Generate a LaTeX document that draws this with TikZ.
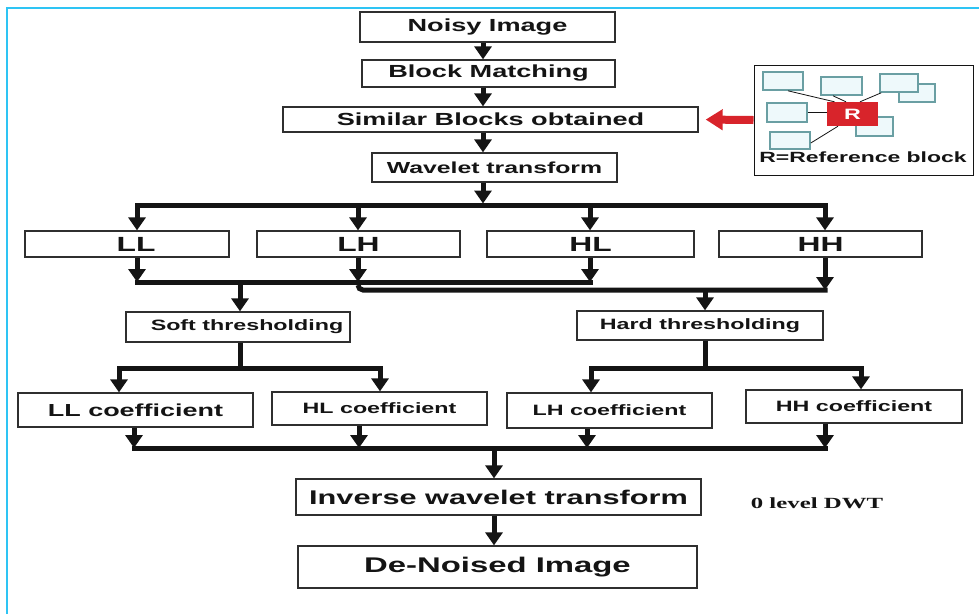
\documentclass[tikz,border=0pt]{standalone}
\usepackage{fontspec}
\usetikzlibrary{arrows.meta,calc}
\newfontfamily\wide{Liberation Sans}[FakeStretch=1.55]
\newfontfamily\widerm{Liberation Serif}[FakeStretch=1.6]
\definecolor{ink}{HTML}{141414}
\definecolor{edge}{HTML}{2F2F2F}
\definecolor{framec}{HTML}{2EC4F4}
\definecolor{rblock}{HTML}{D8242B}
\definecolor{sedge}{HTML}{6A9FA3}
\definecolor{sfill}{HTML}{EEF9FB}
\tikzset{
  box/.style={draw=edge,line width=1.3pt,fill=white,inner sep=0pt,text=ink},
  lbl/.style={font=\wide\bfseries\fontsize{#1}{#1}\selectfont},
  flow/.style={ink,line width=5pt,-{Triangle[length=13pt,width=17pt]}},
  wire/.style={ink,line width=5pt,line cap=rect},
  sblk/.style={draw=sedge,fill=sfill,line width=1.6pt,inner sep=0pt},
  redarr/.style={rblock,line width=8pt,-{Triangle[length=17pt,width=20pt]}},
}

\begin{document}
\begin{tikzpicture}[x=1pt,y=-1pt]
\useasboundingbox (0,0) rectangle (979,614);

% ---------------------------------------------------------------- frame
\draw[framec,line width=2.2pt] (7,614) -- (7,8) -- (979,8);

% ---------------------------------------------------------------- top column
\node[box,lbl=17.5,minimum width=255pt,minimum height=30pt] (noisy) at (487.5,27)   {Noisy Image};
\node[box,lbl=17.5,minimum width=253pt,minimum height=27pt] (block) at (488.5,73.5) {Block Matching};
\node[box,lbl=17.5,minimum width=415pt,minimum height=25pt] (sim)   at (490.5,119.5){Similar Blocks obtained};
\node[box,lbl=16,minimum width=245pt,minimum height=29pt] (wave) at (494.5,167.5){Wavelet transform};

\coordinate (split) at (483,205);
\draw[flow] (noisy.south -| split) -- (block.north -| split);
\draw[flow] (block.south -| split) -- (sim.north -| split);
\draw[flow] (sim.south -| split) -- (wave.north -| split);
\draw[flow,shorten >=1.5pt] (wave.south -| split) -- (split);

% ---------------------------------------------------------------- reference block inset
\node[draw=ink,line width=1pt,fill=white,minimum width=219pt,minimum height=110pt,inner sep=0pt] (refbox) at (863.5,120) {};
\node[sblk,minimum width=36pt,minimum height=18pt] (b3b) at (917,93) {};
\node[sblk,minimum width=37pt,minimum height=19pt] (b6)  at (874.5,126.5) {};
\node[sblk,minimum width=40pt,minimum height=18pt] (b1)  at (783,81) {};
\node[sblk,minimum width=41pt,minimum height=18pt] (b2)  at (841.5,86) {};
\node[sblk,minimum width=38pt,minimum height=18pt] (b3)  at (899,83) {};
\node[sblk,minimum width=40pt,minimum height=19pt] (b4)  at (787,112.5) {};
\node[sblk,minimum width=40pt,minimum height=17pt] (b5)  at (790,140.5) {};
\node[fill=rblock,text=white,lbl=15,minimum width=51pt,minimum height=24pt,inner sep=0pt] (R) at (852.5,114) {R};
\draw[ink,line width=0.8pt] ([xshift=5pt]b1.south) -- ([xshift=-18pt]R.north);
\draw[ink,line width=0.8pt] ([xshift=-8.5pt]b2.south) -- ([xshift=-6.5pt]R.north);
\draw[ink,line width=0.8pt] ([xshift=2pt]b3.south west) -- ([xshift=7.5pt]R.north);
\draw[ink,line width=0.8pt] (b4.east) -- (b4.east -| R.west);
\draw[ink,line width=0.8pt] ([yshift=-2.5pt]b5.east) -- ([xshift=-14.5pt]R.south);
\node[lbl=14.8,text=ink] (rtxt) at (863,157) {R=Reference block};
\draw[redarr,shorten >=7pt] (refbox.west) -- (sim.east);

% ---------------------------------------------------------------- sub-bands
\node[box,lbl=20.5,minimum width=204pt,minimum height=26pt] (LL) at (127,244)   {\hspace*{18pt}LL};
\node[box,lbl=20.5,minimum width=203pt,minimum height=26pt] (LH) at (358.5,244) {LH};
\node[box,lbl=20.5,minimum width=207pt,minimum height=26pt] (HL) at (590.5,244) {HL};
\node[box,lbl=20.5,minimum width=203pt,minimum height=26pt] (HH) at (820.5,244) {HH};

\foreach \b/\x in {LL/137,LH/358,HL/590,HH/825}
  {\coordinate (t\b) at (\x,205);
   \draw[flow] (t\b) -- (t\b |- \b.north);}
\draw[wire] (tLL) -- (tHH);

\coordinate (bLL) at (137,282);
\coordinate (bLH) at (358,282);
\coordinate (bHL) at (590,282);
\coordinate (bHH) at (825,290);
\foreach \b in {LL,LH,HL,HH}
  {\draw[flow] (\b.south -| b\b) -- (b\b);}
\draw[wire] (bLL) -- (bHL);
\draw[wire,rounded corners=5pt,line cap=butt] ([yshift=-3pt]bLH) |- ([xshift=2.5pt]bHH);

% ---------------------------------------------------------------- thresholding
\node[box,lbl=15,minimum width=224pt,minimum height=30pt] (soft) at (238,327)   {\hspace*{18pt}Soft thresholding};
\node[box,lbl=15,minimum width=246pt,minimum height=29pt] (hard) at (700,325.5) {Hard thresholding};
\coordinate (jS) at (240,282);
\coordinate (jH) at (705,290);
\draw[flow] (jS) -- (jS |- soft.north);
\draw[flow] (jH) -- (jH |- hard.north);

% ---------------------------------------------------------------- coefficients
\node[box,lbl=17.4,minimum width=235pt,minimum height=34pt] (LLc) at (135.5,410)  {LL coefficient};
\node[box,lbl=15,minimum width=215pt,minimum height=33pt] (HLc) at (379.5,408.5){HL coefficient};
\node[box,lbl=15,minimum width=205pt,minimum height=35pt] (LHc) at (609.5,410.5){LH coefficient};
\node[box,lbl=15,minimum width=216pt,minimum height=33pt] (HHc) at (854,406.5)  {HH coefficient};

\coordinate (fS) at (240,368);
\coordinate (fH) at (705,368);
\draw[wire,line cap=butt] (soft.south -| fS) -- (fS);
\draw[wire,line cap=butt] (hard.south -| fH) -- (fH);
\coordinate (cLL) at (119,368);
\coordinate (cHL) at (380,368);
\coordinate (cLH) at (591,368);
\coordinate (cHH) at (861,368);
\draw[wire] (cLL) -- (cHL);
\draw[wire] (cLH) -- (cHH);
\foreach \b in {LL,HL,LH,HH}
  {\draw[flow] (c\b) -- (c\b |- \b c.north);}

% ---------------------------------------------------------------- merge and inverse
\coordinate (mLL) at (134,448);
\coordinate (mHL) at (359,448);
\coordinate (mLH) at (587,448);
\coordinate (mHH) at (825,448);
\foreach \b in {LL,HL,LH,HH}
  {\draw[flow] (\b c.south -| m\b) -- (m\b);}
\draw[wire] (mLL) -- (mHH);

\node[box,lbl=19.8,minimum width=405pt,minimum height=36pt] (inv) at (498.5,497) {Inverse wavelet transform};
\node[box,lbl=21.2,minimum width=399pt,minimum height=42pt] (den) at (497.5,567) {De-Noised Image};
\coordinate (mid) at (494,448);
\draw[flow] (mid) -- (mid |- inv.north);
\draw[flow] (inv.south -| mid) -- (mid |- den.north);

\node[font=\widerm\bfseries\fontsize{15.5}{15.5}\selectfont,text=ink] (dwt) at (817,503) {0 level DWT};

\end{tikzpicture}
\end{document}
